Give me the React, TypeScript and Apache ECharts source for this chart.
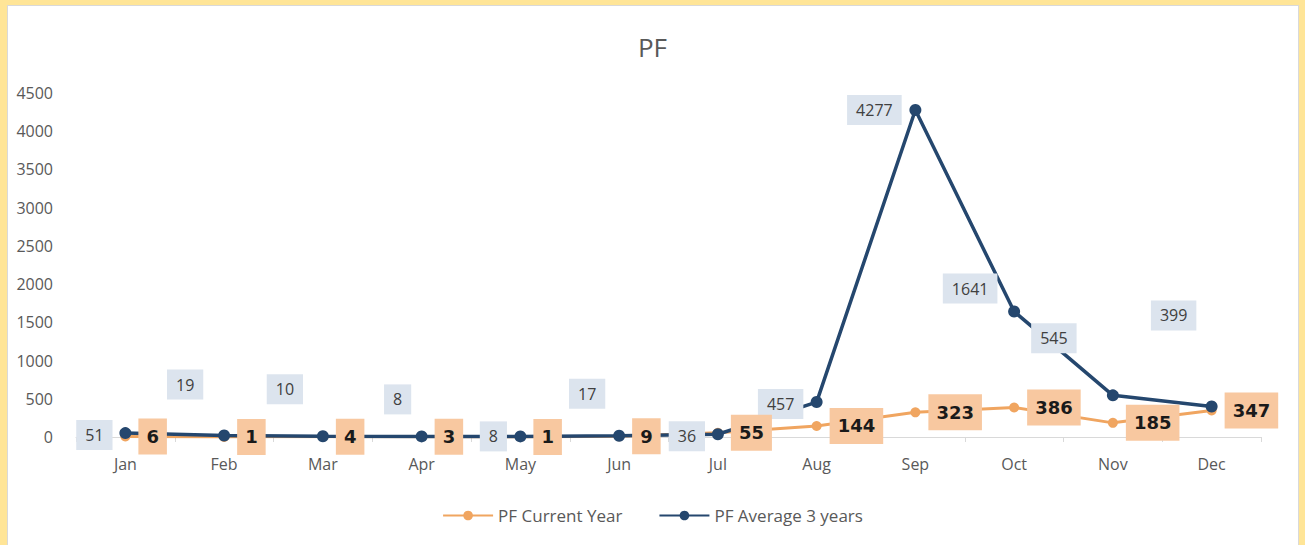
import React, { useEffect, useRef } from "react";
import * as echarts from "echarts";

const months = ["Jan", "Feb", "Mar", "Apr", "May", "Jun", "Jul", "Aug", "Sep", "Oct", "Nov", "Dec"];
const currentYear = [6, 1, 4, 3, 1, 9, 55, 144, 323, 386, 185, 347];
const average3Years = [51, 19, 10, 8, 8, 17, 36, 457, 4277, 1641, 545, 399];
const yTicks = { min: 0, max: 4500, interval: 500 };

// label placement (pixel offsets from each point), as in the reference
const avgLabelOffsets: [number, number][] = [
  [-31, 2], [-39, -51], [-38, -47], [-24, -37], [-27, 0], [-32, -42],
  [-31, 2], [-36, 2], [-41, 0], [-44, -23], [-59, -57], [-38, -91],
];

export default function App() {
  const ref = useRef<HTMLDivElement>(null);
  useEffect(() => {
    document.body.style.margin = "0";
    if (!ref.current) return;
    const chart = echarts.init(ref.current, null, { renderer: "svg" });
    const font = "'Open Sans', 'Noto Sans', sans-serif";
    const orange = "#f0a560";
    const blue = "#25476e";
    chart.setOption({
      animation: false,
      backgroundColor: "transparent",
      title: {
        text: "PF",
        left: "center",
        top: 29,
        textStyle: { color: "#595959", fontSize: 26, fontWeight: "normal", fontFamily: font },
      },
      legend: {
        top: 502,
        left: "center",
        itemWidth: 50,
        itemHeight: 12,
        itemGap: 36,
        textStyle: { color: "#595959", fontSize: 17, fontFamily: font },
        data: ["PF Current Year", "PF Average 3 years"],
      },
      grid: { left: 76, right: 44, top: 93, bottom: 108, containLabel: false },
      xAxis: {
        type: "category",
        data: months,
        boundaryGap: true,
        axisLine: { lineStyle: { color: "#d9d9d9", width: 1 } },
        axisTick: { show: true, alignWithLabel: false, length: 5, lineStyle: { color: "#d9d9d9" } },
        axisLabel: { color: "#595959", fontSize: 16, margin: 19, fontFamily: font },
        splitLine: { show: false },
      },
      yAxis: {
        type: "value",
        min: yTicks.min,
        max: yTicks.max,
        interval: yTicks.interval,
        axisLine: { show: false },
        axisTick: { show: false },
        splitLine: { show: false },
        axisLabel: {
          color: "#595959",
          fontSize: 16,
          margin: 23,
          fontFamily: font,
          formatter: (v: number) => String(v),
        },
      },
      series: [
        {
          name: "PF Current Year",
          type: "line",
          data: currentYear,
          symbol: "circle",
          symbolSize: 10,
          itemStyle: { color: orange },
          lineStyle: { color: orange, width: 3 },
          z: 2,
          label: { show: false },
        },
        {
          name: "PF Average 3 years",
          type: "line",
          data: average3Years.map((v, i) => ({
            value: v,
            label: { offset: avgLabelOffsets[i] },
          })),
          symbol: "circle",
          symbolSize: 12,
          itemStyle: { color: blue },
          lineStyle: { color: blue, width: 3.5 },
          z: 3,
          label: {
            show: true,
            position: "inside",
            backgroundColor: "#dce4ee",
            padding: [7, 9],
            color: "#404040",
            fontSize: 16,
            fontFamily: font,
          },
        },
        {
          name: "PF Current Year labels",
          type: "line",
          data: currentYear,
          symbol: "circle",
          symbolSize: 10,
          showSymbol: true,
          itemStyle: { color: "rgba(0,0,0,0)", borderWidth: 0 },
          lineStyle: { color: "rgba(0,0,0,0)", width: 0 },
          z: 4,
          silent: true,
          label: {
            show: true,
            position: "right",
            distance: 8,
            backgroundColor: "#f8c8a0",
            padding: [9, 8],
            color: "#1a1a1a",
            fontSize: 18,
            fontWeight: "bold",
            fontFamily: "'DejaVu Sans', sans-serif",
          },
        },
      ],
    });
    return () => chart.dispose();
  }, []);

  return (
    <div style={{ position: "fixed", left: 0, top: 0, width: 1305, height: 545, background: "#ffe597", overflow: "hidden" }}>
      <div
        style={{
          position: "absolute",
          left: 7,
          top: 5,
          width: 1292,
          height: 545,
          background: "#ffffff",
          border: "1px solid #d9d9d9",
          boxSizing: "border-box",
        }}
      />
      <div ref={ref} style={{ position: "absolute", left: 0, top: 0, width: 1305, height: 545 }} />
    </div>
  );
}
